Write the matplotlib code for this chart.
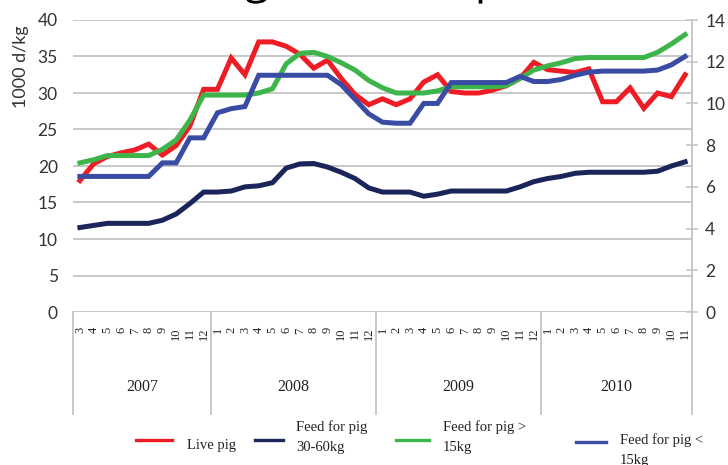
import numpy as np
from matplotlib import pyplot as plt
from matplotlib import patheffects
from matplotlib.lines import Line2D

W, H = 728, 465

YEARS = ["2007", "2008", "2009", "2010"]
MONTHS = [
    [3, 4, 5, 6, 7, 8, 9, 10, 11, 12],
    [1, 2, 3, 4, 5, 6, 7, 8, 9, 10, 11, 12],
    [1, 2, 3, 4, 5, 6, 7, 8, 9, 10, 11, 12],
    [1, 2, 3, 4, 5, 6, 7, 8, 9, 10, 11],
]

# live pig price, left axis (1000 d/kg)
LIVE_PIG = [18.0, 20.3, 21.3, 21.8, 22.2, 23.0, 21.5, 22.8, 25.5, 30.5,
            30.5, 34.8, 32.5, 37.0, 37.0, 36.4, 35.3, 33.4, 34.5, 32.0, 29.8, 28.4,
            29.2, 28.4, 29.2, 31.5, 32.5, 30.2, 30.0, 30.0, 30.4, 31.0, 32.0, 34.2,
            33.2, 33.0, 32.8, 33.3, 28.8, 28.8, 30.7, 27.9, 30.0, 29.5, 32.5]

# feed prices, right axis
FEED_30_60 = [4.05, 4.15, 4.25, 4.25, 4.25, 4.25, 4.4, 4.7, 5.2, 5.75,
              5.75, 5.8, 6.0, 6.05, 6.2, 6.9, 7.1, 7.12, 6.95, 6.7, 6.4, 5.95,
              5.75, 5.75, 5.75, 5.55, 5.65, 5.8, 5.8, 5.8, 5.8, 5.8, 6.0, 6.25,
              6.4, 6.5, 6.65, 6.7, 6.7, 6.7, 6.7, 6.7, 6.75, 7.0, 7.2]
FEED_OVER_15 = [7.15, 7.3, 7.5, 7.5, 7.5, 7.5, 7.8, 8.25, 9.2, 10.4,
                10.4, 10.4, 10.4, 10.5, 10.7, 11.9, 12.4, 12.45, 12.25, 11.95, 11.6, 11.1,
                10.75, 10.5, 10.5, 10.5, 10.6, 10.8, 10.8, 10.8, 10.8, 10.85, 11.2, 11.6,
                11.8, 11.95, 12.15, 12.2, 12.2, 12.2, 12.2, 12.2, 12.45, 12.85, 13.3]
FEED_UNDER_15 = [6.5, 6.5, 6.5, 6.5, 6.5, 6.5, 7.15, 7.15, 8.35, 8.35,
                 9.55, 9.75, 9.85, 11.35, 11.35, 11.35, 11.35, 11.35, 11.35, 10.9, 10.2, 9.5,
                 9.1, 9.05, 9.05, 10.0, 10.0, 11.0, 11.0, 11.0, 11.0, 11.0, 11.3, 11.05,
                 11.05, 11.15, 11.35, 11.5, 11.55, 11.55, 11.55, 11.55, 11.6, 11.85, 12.25]

SERIES = [
    ("Live pig", "#ee1c25"),
    ("Feed for pig\n30-60kg", "#1b255a"),
    ("Feed for pig >\n15kg", "#3db54a"),
    ("Feed for pig <\n15kg", "#3a4ba3"),
]

SANS = ["Lato", "DejaVu Sans"]
SERIF = ["Liberation Serif", "DejaVu Serif"]
GRID = "#c4c4c4"


def fx(px):
    return px / W


def fy(py):
    return 1 - py / H


fig = plt.figure(figsize=(W / 100, H / 100), dpi=100)
ax = fig.add_axes([fx(73), fy(312), fx(692) - fx(73), fy(20) - fy(312)])
ax2 = ax.twinx()

n = sum(len(m) for m in MONTHS)
x = np.arange(n)

ax.plot(x, LIVE_PIG, color=SERIES[0][1], lw=3.6, solid_joinstyle="miter")
for vals, (_, col) in zip([FEED_30_60, FEED_OVER_15, FEED_UNDER_15], SERIES[1:]):
    ax2.plot(x, vals, color=col, lw=3.6, solid_joinstyle="miter")

ax.set_xlim(-0.5, n - 0.5)
ax.set_ylim(0, 40)
ax.set_yticks(np.arange(0, 41, 5))
ax2.set_ylim(0, 14)
ax2.set_yticks(np.arange(0, 15, 2))

ax.yaxis.grid(True, color=GRID, lw=1.3)
ax.set_axisbelow(True)
ax.set_xticks([])
ax.tick_params(axis="y", length=0, pad=11, labelsize=12.5, labelcolor="#333333")
ax2.tick_params(axis="y", direction="inout", length=9, width=1.1, color=GRID,
                pad=5, labelsize=12.5, labelcolor="#333333")
for lab in ax.get_yticklabels() + ax2.get_yticklabels():
    lab.set_family(SANS)

for a in (ax, ax2):
    for side in ("top", "left", "bottom"):
        a.spines[side].set_visible(False)
ax.spines["right"].set_visible(False)
ax2.spines["right"].set_color(GRID)
ax2.spines["right"].set_linewidth(1.3)

# two-level category axis: months rotated, years underneath
trans = ax.get_xaxis_transform()
bounds = np.concatenate([[0], np.cumsum([len(m) for m in MONTHS])]) - 0.5
for b in bounds:
    ax.plot([b, b], [0, -0.35], transform=trans, color=GRID, lw=1.3, clip_on=False)
i = 0
for year, months in zip(YEARS, MONTHS):
    for m in months:
        ax.text(i, -0.052, str(m), transform=trans, rotation=90, ha="center",
                va="top", fontsize=9, family=SERIF, color="#222222")
        i += 1
for year, lo, hi in zip(YEARS, bounds[:-1], bounds[1:]):
    ax.text((lo + hi) / 2, -0.257, year, transform=trans, ha="center",
            va="center", fontsize=11.5, family=SERIF, color="#222222")

fig.text(fx(21), fy(67), "1000 d/kg", rotation=90, ha="center", va="center",
         fontsize=13, family=SANS, color="#333333")

# heading sits above the figure edge, only descenders reach in
fig.text(fx(207), fy(-7), "Pig and feed prices", ha="left", va="baseline",
         fontsize=32, family=["Open Sans", "DejaVu Sans"], color="black",
         path_effects=[patheffects.Normal()])

# legend row
legend_pos = [(136, 172, 187), (255, 283, 296), (396, 429, 443), (576, 606, 620)]
legend_y = [440, 440, 440, 442]
text_y = [445, 437, 437, 450]
for (label, col), (x0, x1, tx), ly, ty in zip(SERIES, legend_pos, legend_y, text_y):
    fig.add_artist(Line2D([fx(x0), fx(x1)], [fy(ly), fy(ly)], color=col, lw=2.4,
                          transform=fig.transFigure))
    fig.text(fx(tx), fy(ty), label, ha="left", va="center", fontsize=10.5,
             family=SERIF, color="#222222", linespacing=1.7)

plt.savefig("out.png", dpi=100)
